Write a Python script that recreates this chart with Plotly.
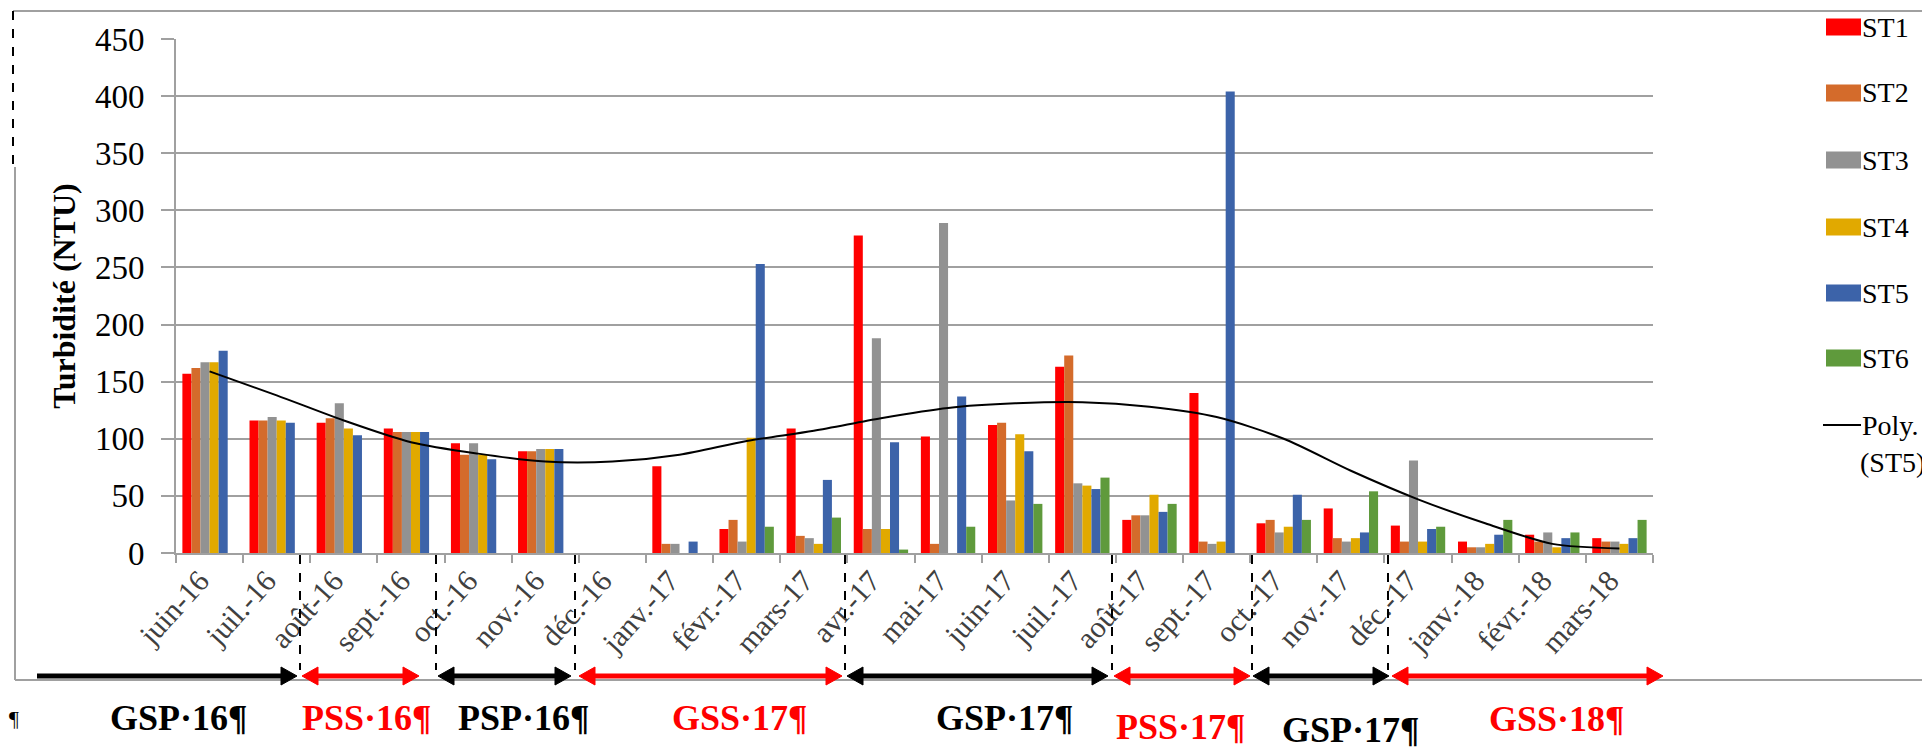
import plotly.graph_objects as go

# ---------------- data ----------------
months = ["juin-16", "juil.-16", "août-16", "sept.-16", "oct.-16", "nov.-16", "déc.-16",
          "janv.-17", "févr.-17", "mars-17", "avr.-17", "mai-17", "juin-17", "juil.-17",
          "août-17", "sept.-17", "oct.-17", "nov.-17", "déc.-17", "janv.-18", "févr.-18", "mars-18"]

st1 = [157, 116, 114, 109, 96, 89, None, 76, 21, 109, 278, 102, 112, 163, 29, 140, 26, 39, 24, 10, 16, 13]
st2 = [162, 116, 118, 106, 86, 89, None, 8, 29, 15, 21, 8, 114, 173, 33, 10, 29, 13, 10, 5, 10, 10]
st3 = [167, 119, 131, 106, 96, 91, None, 8, 10, 13, 188, 289, 46, 61, 33, 8, 18, 10, 81, 5, 18, 10]
st4 = [167, 116, 109, 106, 86, 91, None, None, 101, 8, 21, None, 104, 59, 51, 10, 23, 13, 10, 8, 5, 8]
st5 = [177, 114, 103, 106, 82, 91, None, 10, 253, 64, 97, 137, 89, 56, 36, 404, 51, 18, 21, 16, 13, 13]
st6 = [None, None, None, None, None, None, None, None, 23, 31, 3, 23, 43, 66, 43, None, 29, 54, 23, 29, 18, 29]

# polynomial trend line of ST5
poly_st5 = [159, 138, 116, 97, 87, 80, 80, 86, 98, 107, 118, 127, 131, 132, 128, 119, 100, 72, 47, 26, 8, 4]

series_names = ["ST1", "ST2", "ST3", "ST4", "ST5", "ST6"]
series_values = [st1, st2, st3, st4, st5, st6]
series_colors = ["#ff0000", "#d46b2b", "#929292", "#e1a900", "#3c63a9", "#5f9a3c"]

# hydrological seasons (label, colour)
season_labels = ["GSP·16¶", "PSS·16¶", "PSP·16¶", "GSS·17¶", "GSP·17¶", "PSS·17¶", "GSP·17¶", "GSS·18¶"]
season_colors = ["black", "red", "black", "red", "black", "red", "black", "red"]

y_ticks = list(range(0, 451, 50))

# ---------------- layout geometry (screen pixels) ----------------
OFF = 8                      # page body margin
W, H = 1930 - OFF, 753 - OFF  # figure size
L, R, T, B = 176, 1653, 39, 553   # plot area on screen


def px2x(px):
    return (px - L) / (R - L)


def py2y(py):
    return (B - py) / (B - T)


FONT = "Liberation Serif, Tinos, Times New Roman, serif"

fig = go.Figure()
for name, vals, col in zip(series_names, series_values, series_colors):
    fig.add_trace(go.Bar(x=months, y=vals, name=name, marker=dict(color=col, line=dict(width=0)),
                         showlegend=False))
fig.add_trace(go.Scatter(x=months, y=poly_st5, mode="lines", name="Poly. (ST5)",
                         line=dict(color="black", width=2, shape="spline", smoothing=0.8),
                         showlegend=False))

shapes = []
annotations = []
GRAY = "#a0a0a0"

# outer frame
shapes.append(dict(type="line", xref="paper", yref="paper", x0=px2x(13), x1=px2x(1935),
                   y0=py2y(11), y1=py2y(11), line=dict(color=GRAY, width=2)))
shapes.append(dict(type="line", xref="paper", yref="paper", x0=px2x(15), x1=px2x(1935),
                   y0=py2y(680), y1=py2y(680), line=dict(color=GRAY, width=2)))
shapes.append(dict(type="line", xref="paper", yref="paper", x0=px2x(15), x1=px2x(15),
                   y0=py2y(167), y1=py2y(680), line=dict(color=GRAY, width=2)))
shapes.append(dict(type="line", xref="paper", yref="paper", x0=px2x(13), x1=px2x(13),
                   y0=py2y(11), y1=py2y(167), line=dict(color="black", width=2, dash="dash")))

# season dividers (dashed) and arrows
divider_px = [300, 436, 575, 845, 1112, 1252, 1388]
for d in divider_px:
    shapes.append(dict(type="line", xref="paper", yref="paper", x0=px2x(d), x1=px2x(d),
                       y0=py2y(555), y1=py2y(670), line=dict(color="black", width=2, dash="dash")))

arrow_px = [(37, 297, False), (302, 419, True), (438, 571, True), (579, 842, True),
            (847, 1108, True), (1114, 1250, True), (1253, 1389, True), (1392, 1663, True)]
AY = 676
HL, HH = 16, 9
for (a, b, both), col in zip(arrow_px, season_colors):
    shapes.append(dict(type="line", xref="paper", yref="paper", x0=px2x(a + (HL - 2 if both else 0)),
                       x1=px2x(b - HL + 2), y0=py2y(AY), y1=py2y(AY), line=dict(color=col, width=5)))
    path = (f"M{px2x(b)},{py2y(AY)} L{px2x(b - HL)},{py2y(AY - HH)} "
            f"L{px2x(b - HL)},{py2y(AY + HH)} Z")
    shapes.append(dict(type="path", xref="paper", yref="paper", path=path,
                       fillcolor=col, line=dict(color=col, width=1)))
    if both:
        path = (f"M{px2x(a)},{py2y(AY)} L{px2x(a + HL)},{py2y(AY - HH)} "
                f"L{px2x(a + HL)},{py2y(AY + HH)} Z")
        shapes.append(dict(type="path", xref="paper", yref="paper", path=path,
                           fillcolor=col, line=dict(color=col, width=1)))

label_pos = [(178, 718), (366, 718), (523, 718), (740, 718), (1005, 718),
             (1180, 727), (1350, 730), (1557, 719)]
for txt, col, (lx, ly) in zip(season_labels, season_colors, label_pos):
    annotations.append(dict(xref="paper", yref="paper", x=px2x(lx), y=py2y(ly), text=txt,
                            showarrow=False, xanchor="center", yanchor="middle",
                            font=dict(family=FONT, size=36, color=col, weight="bold")))
annotations.append(dict(xref="paper", yref="paper", x=px2x(14), y=py2y(718), text="¶",
                        showarrow=False, xanchor="center", yanchor="middle",
                        font=dict(family=FONT, size=22, color="black")))

# legend drawn at the right
leg_y = [27, 93, 160, 227, 293, 358]
SW0, SW1 = 1826, 1861
LEG_SIZE = 28
for name, col, ly in zip(series_names, series_colors, leg_y):
    shapes.append(dict(type="rect", xref="paper", yref="paper", x0=px2x(SW0), x1=px2x(SW1),
                       y0=py2y(ly - 8.5), y1=py2y(ly + 8.5), fillcolor=col, line=dict(width=0)))
    annotations.append(dict(xref="paper", yref="paper", x=px2x(SW1), y=py2y(ly), text=name,
                            showarrow=False, xanchor="left", yanchor="middle", borderpad=0,
                            font=dict(family=FONT, size=LEG_SIZE, color="black")))
shapes.append(dict(type="line", xref="paper", yref="paper", x0=px2x(SW0 - 3), x1=px2x(SW1),
                   y0=py2y(425), y1=py2y(425), line=dict(color="black", width=2)))
annotations.append(dict(xref="paper", yref="paper", x=px2x(SW1), y=py2y(425), text="Poly.",
                        showarrow=False, xanchor="left", yanchor="middle", borderpad=0,
                        font=dict(family=FONT, size=LEG_SIZE, color="black")))
annotations.append(dict(xref="paper", yref="paper", x=px2x(SW1 - 2), y=py2y(462), text="(ST5)",
                        showarrow=False, xanchor="left", yanchor="middle", borderpad=0,
                        font=dict(family=FONT, size=LEG_SIZE, color="black")))

fig.update_layout(
    width=W, height=H,
    margin=dict(l=L - OFF, r=W - (R - OFF), t=T - OFF, b=H - (B - OFF), pad=0, autoexpand=False),
    paper_bgcolor="white", plot_bgcolor="white",
    barmode="group", bargap=0.19, bargroupgap=0,
    font=dict(family=FONT, color="black"),
    shapes=shapes, annotations=annotations,
    showlegend=False,
)
fig.update_xaxes(type="category", showline=True, linecolor=GRAY, linewidth=2,
                 ticks="outside", tickson="boundaries", ticklen=8, tickwidth=2, tickcolor=GRAY,
                 tickangle=-48, tickfont=dict(family=FONT, size=30, color="#404040"),
                 ticklabelshift=-10, ticklabelstandoff=-4,
                 showgrid=False, automargin=False)
fig.update_yaxes(range=[0, 450], tickvals=y_ticks, showgrid=True, gridcolor=GRAY, gridwidth=2,
                 showline=True, linecolor=GRAY, linewidth=2, zeroline=False,
                 ticks="outside", ticklen=13, tickwidth=2, tickcolor=GRAY,
                 tickfont=dict(family=FONT, size=33, color="black"), ticklabelstandoff=10,
                 title=dict(text="Turbidité (NTU)", standoff=10,
                            font=dict(family=FONT, size=32, color="black", weight="bold")),
                 automargin=False)

fig.write_html("out.html")
